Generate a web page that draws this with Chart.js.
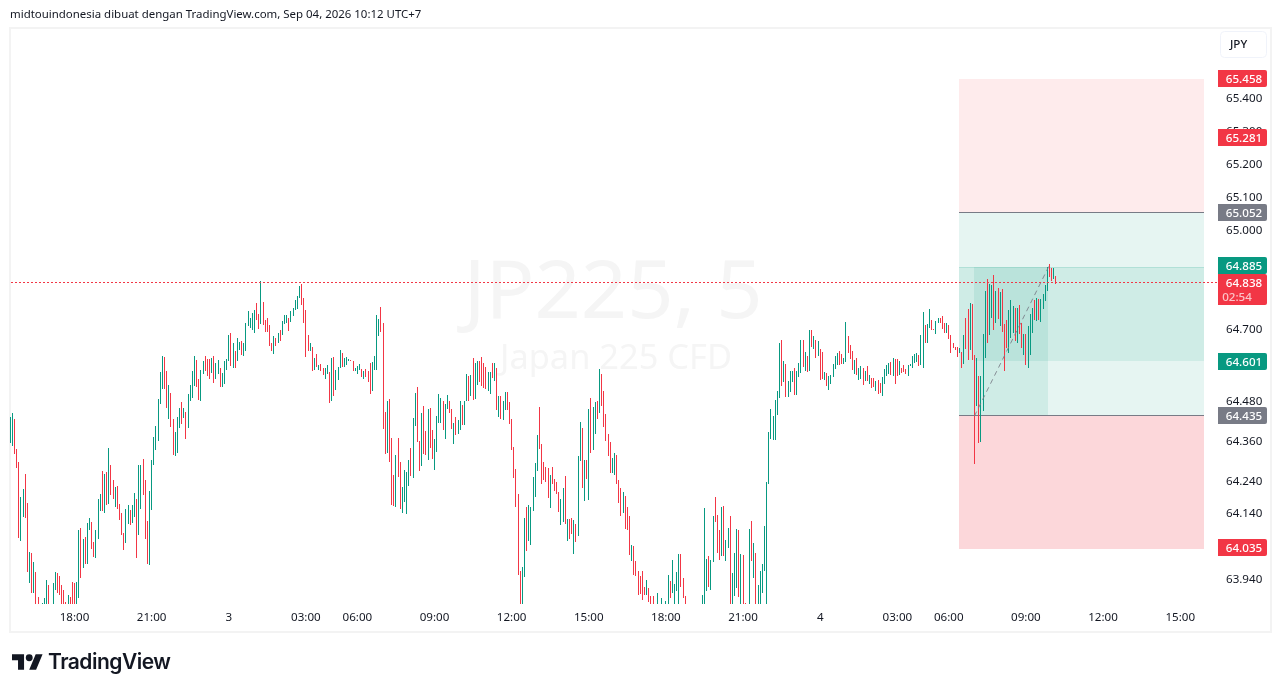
<!DOCTYPE html>
<html>
<head>
<meta charset="utf-8">
<title>JP225, 5</title>
<script src="https://cdn.jsdelivr.net/npm/chart.js@4"></script>
<style>
    html, body { margin: 0; padding: 0; background: #fff; overflow: hidden; }
    #frame { position: absolute; left: 9px; top: 27px; width: 1259px; height: 602px; border: 2px solid #f3f3f3; }
    #chart { position: absolute; left: 0; top: 0; }
    #header { position: absolute; left: 10px; top: 6px; font: 11.45px "Noto Sans", sans-serif; color: #131722; white-space: nowrap; }
    #logo { position: absolute; left: 12px; top: 654px; }
    #brand { position: absolute; left: 48px; top: 649px; font: 600 21px Inter, sans-serif; color: #131722; letter-spacing: -0.5px; }
</style>
</head>
<body>
<div id="frame"></div>
<canvas id="chart" width="1281" height="692"></canvas>
<div id="header">midtouindonesia dibuat dengan TradingView.com, Sep 04, 2026 10:12 UTC+7</div>
<svg id="logo" width="31" height="16" viewBox="0 4 36 18"><path fill="#131722" d="M14 22H7V11H0V4h14v18zM28 22h-8l7.5-18h8L28 22z"/><circle fill="#131722" cx="20" cy="8" r="4"/></svg>
<div id="brand">TradingView</div>
<script>
// 5 min bars, 15:30 on Sep 2 up to 10:10 on Sep 4
const highs = [
    64.433,64.444,64.425,64.334,64.295,64.189,64.213,64.259,64.171,64.022,
    64.019,63.992,63.961,63.885,63.85,63.867,63.882,63.937,63.922,63.85,
    63.928,63.961,63.958,63.949,63.922,63.907,63.870,63.891,63.885,63.931,
    63.928,63.931,64.089,64.095,64.061,64.067,64.110,64.125,64.113,64.052,
    64.089,64.183,64.198,64.268,64.259,64.265,64.338,64.286,64.240,64.219,
    64.222,64.168,64.140,64.080,64.152,64.165,64.149,64.165,64.201,64.183,
    64.286,64.286,64.304,64.240,64.116,64.207,64.301,64.371,64.404,64.486,
    64.568,64.617,64.614,64.571,64.529,64.504,64.425,64.386,64.432,64.459,
    64.477,64.459,64.447,64.501,64.529,64.571,64.617,64.605,64.547,64.574,
    64.601,64.617,64.608,64.608,64.611,64.617,64.595,64.605,64.580,64.565,
    64.601,64.608,64.680,64.686,64.656,64.632,64.671,64.659,64.662,64.656,
    64.717,64.753,64.732,64.747,64.756,64.778,64.744,64.844,64.781,64.726,
    64.732,64.711,64.656,64.677,64.671,64.686,64.696,64.723,64.741,64.741,
    64.732,64.753,64.762,64.787,64.799,64.829,64.835,64.793,64.756,64.680,
    64.656,64.644,64.611,64.623,64.589,64.592,64.580,64.580,64.589,64.568,
    64.611,64.614,64.574,64.583,64.635,64.626,64.611,64.614,64.608,64.605,
    64.601,64.580,64.586,64.592,64.577,64.571,64.577,64.571,64.595,64.598,
    64.617,64.741,64.729,64.765,64.717,64.447,64.480,64.486,64.368,64.256,
    64.316,64.368,64.295,64.219,64.271,64.265,64.301,64.338,64.429,64.504,
    64.523,64.359,64.444,64.465,64.389,64.456,64.459,64.392,64.365,64.435,
    64.501,64.489,64.480,64.471,64.498,64.480,64.456,64.413,64.432,64.422,
    64.480,64.468,64.480,64.562,64.556,64.559,64.611,64.595,64.601,64.601,
    64.614,64.595,64.583,64.568,64.568,64.595,64.595,64.580,64.495,64.495,
    64.480,64.507,64.507,64.477,64.425,64.341,64.274,64.198,63.964,63.976,
    64.125,64.158,64.165,64.158,64.249,64.292,64.377,64.462,64.350,64.295,
    64.280,64.277,64.256,64.280,64.243,64.234,64.204,64.183,64.216,64.253,
    64.122,64.122,64.125,64.119,64.107,64.313,64.416,64.398,64.301,64.301,
    64.456,64.489,64.462,64.477,64.480,64.577,64.562,64.510,64.441,64.380,
    64.356,64.307,64.322,64.316,64.240,64.216,64.204,64.192,64.158,64.131,
    64.043,64.040,63.995,63.964,63.949,63.964,63.916,63.937,63.913,63.888,
    63.888,63.85,63.897,63.85,63.882,63.85,63.873,63.952,63.934,63.998,
    63.925,63.961,64.016,64.016,63.943,63.888,63.85,63.85,63.85,63.85,
    63.85,63.85,63.85,63.891,64.155,64.001,64.010,63.998,64.131,64.189,
    64.134,64.089,64.158,64.161,64.058,64.095,64.131,63.958,64.019,64.092,
    64.089,64.016,64.013,63.867,63.85,64.092,64.116,64.049,64.019,63.922,
    63.964,63.985,64.101,64.234,64.386,64.456,64.435,64.483,64.510,64.656,
    64.665,64.601,64.592,64.541,64.571,64.571,64.580,64.571,64.595,64.665,
    64.665,64.629,64.617,64.696,64.696,64.677,64.665,64.662,64.638,64.629,
    64.568,64.565,64.556,64.559,64.592,64.617,64.626,64.632,64.623,64.611,
    64.720,64.677,64.650,64.632,64.605,64.611,64.580,64.586,64.580,64.571,
    64.586,64.559,64.550,64.550,64.541,64.544,64.535,64.553,64.577,64.589,
    64.595,64.598,64.611,64.608,64.608,64.601,64.582,64.589,64.577,64.589,
    64.592,64.617,64.623,64.626,64.620,64.680,64.750,64.711,64.714,64.759,
    64.726,64.699,64.723,64.732,64.732,64.738,64.717,64.717,64.711,64.680,
    64.656,64.644,64.644,64.641,64.629,64.680,64.732,64.759,64.778,64.775,
    64.620,64.611,64.556,64.556,64.683,64.814,64.850,64.835,64.832,64.862,
    64.814,64.823,64.811,64.820,64.714,64.726,64.756,64.787,64.768,64.762,
    64.762,64.771,64.717,64.683,64.683,64.708,64.744,64.762,64.787,64.793,
    64.790,64.790,64.805,64.832,64.887,64.896,64.884,64.884,64.859
];
const lows = [
    64.352,64.344,64.319,64.277,64.064,64.055,64.128,64.125,63.961,63.928,
    63.897,63.897,63.85,63.85,63.80,63.85,63.85,63.85,63.85,63.80,
    63.85,63.907,63.897,63.891,63.85,63.85,63.85,63.85,63.85,63.85,
    63.85,63.85,63.882,63.943,63.973,63.985,63.985,64.089,64.031,64.007,
    64.004,64.061,64.146,64.146,64.140,64.165,64.168,64.195,64.183,64.158,
    64.152,64.119,64.073,64.028,64.049,64.107,64.104,64.110,64.128,64.004,
    64.073,64.152,64.195,64.061,63.985,63.982,64.149,64.286,64.331,64.359,
    64.471,64.517,64.517,64.459,64.425,64.401,64.316,64.313,64.322,64.398,
    64.410,64.429,64.365,64.398,64.480,64.489,64.526,64.523,64.483,64.480,
    64.562,64.571,64.556,64.547,64.565,64.535,64.547,64.562,64.523,64.523,
    64.532,64.574,64.601,64.586,64.580,64.580,64.601,64.635,64.620,64.617,
    64.632,64.708,64.702,64.696,64.686,64.726,64.699,64.714,64.711,64.690,
    64.690,64.647,64.632,64.623,64.647,64.656,64.662,64.680,64.714,64.717,
    64.693,64.720,64.738,64.756,64.759,64.793,64.771,64.717,64.614,64.632,
    64.632,64.571,64.574,64.583,64.574,64.571,64.559,64.547,64.562,64.474,
    64.480,64.495,64.513,64.544,64.580,64.583,64.583,64.589,64.601,64.601,
    64.571,64.571,64.562,64.574,64.553,64.547,64.553,64.538,64.501,64.510,
    64.574,64.574,64.677,64.690,64.395,64.319,64.322,64.295,64.165,64.161,
    64.158,64.249,64.152,64.140,64.174,64.137,64.222,64.253,64.246,64.404,
    64.356,64.268,64.283,64.319,64.316,64.301,64.338,64.304,64.271,64.325,
    64.413,64.413,64.392,64.365,64.456,64.444,64.395,64.350,64.377,64.380,
    64.392,64.407,64.407,64.480,64.480,64.495,64.483,64.486,64.529,64.538,
    64.526,64.519,64.517,64.510,64.501,64.550,64.541,64.453,64.432,64.425,
    64.422,64.453,64.453,64.410,64.331,64.246,64.158,63.952,63.85,63.85,
    63.946,64.025,64.055,64.043,64.146,64.189,64.268,64.334,64.228,64.240,
    64.234,64.186,64.155,64.228,64.207,64.198,64.143,64.104,64.113,64.107,
    64.055,64.061,64.076,64.016,64.052,64.070,64.298,64.216,64.177,64.243,
    64.180,64.322,64.331,64.380,64.425,64.444,64.465,64.401,64.359,64.313,
    64.262,64.262,64.256,64.228,64.171,64.131,64.140,64.093,64.089,64.013,
    63.995,63.952,63.949,63.891,63.894,63.876,63.891,63.891,63.870,63.85,
    63.85,63.80,63.85,63.80,63.85,63.80,63.85,63.85,63.882,63.897,
    63.85,63.904,63.85,63.916,63.882,63.85,63.80,63.80,63.80,63.80,
    63.80,63.80,63.80,63.85,63.85,63.904,63.916,63.907,63.992,64.113,
    64.019,63.998,64.010,64.010,63.995,64.034,63.85,63.85,63.888,63.913,
    63.885,63.85,63.85,63.85,63.80,63.85,63.995,63.943,63.85,63.85,
    63.85,63.897,63.964,63.85,64.228,64.365,64.362,64.362,64.438,64.489,
    64.526,64.538,64.492,64.492,64.507,64.538,64.498,64.498,64.553,64.565,
    64.583,64.571,64.568,64.571,64.644,64.638,64.611,64.617,64.544,64.547,
    64.544,64.526,64.513,64.532,64.553,64.577,64.589,64.589,64.592,64.592,
    64.598,64.626,64.608,64.574,64.562,64.559,64.544,64.547,64.529,64.541,
    64.541,64.532,64.519,64.523,64.510,64.501,64.504,64.495,64.532,64.556,
    64.562,64.559,64.556,64.532,64.556,64.559,64.565,64.568,64.562,64.556,
    64.586,64.580,64.595,64.598,64.586,64.589,64.580,64.656,64.656,64.702,
    64.696,64.696,64.683,64.717,64.717,64.699,64.686,64.686,64.668,64.626,
    64.641,64.635,64.614,64.626,64.580,64.592,64.638,64.605,64.635,64.605,
    64.289,64.465,64.353,64.356,64.450,64.611,64.656,64.680,64.732,64.696,
    64.717,64.729,64.708,64.690,64.571,64.641,64.626,64.671,64.686,64.662,
    64.656,64.683,64.641,64.620,64.589,64.580,64.620,64.686,64.726,64.723,
    64.726,64.720,64.759,64.784,64.814,64.856,64.844,64.850,64.835
];
const ups = [
    1,1,0,0,0,1,1,0,0,1, 0,1,0,0,0,1,1,1,0,1, 1,1,0,0,0,0,0,1,0,0, 0,1,1,0,1,0,1,1,0,0,
    1,1,1,0,1,0,1,0,0,1, 0,0,0,0,1,1,0,1,1,0, 1,1,0,0,0,1,1,1,1,1, 1,1,0,0,1,0,0,1,1,1,
    0,1,0,1,1,1,1,0,0,1, 1,0,0,0,1,0,1,1,0,1, 1,1,1,0,1,0,1,1,0,1, 1,1,1,1,1,0,0,1,0,0,
    0,0,0,1,0,1,0,1,1,1, 0,1,1,1,1,1,0,0,0,0, 1,0,1,0,1,0,0,1,1,0, 1,0,1,1,1,0,1,1,1,0,
    0,1,1,1,0,1,0,0,0,1, 1,1,1,0,0,0,1,0,0,0, 1,0,0,1,1,1,1,0,1,1, 0,0,1,0,0,1,0,0,1,1,
    1,1,0,1,1,0,0,1,0,1, 1,0,1,1,0,1,0,1,1,0, 0,0,0,1,1,0,1,0,1,0, 1,1,0,0,0,0,0,0,0,1,
    1,0,1,1,1,1,1,0,0,0, 0,0,1,0,0,0,0,1,1,0, 1,0,0,1,0,1,1,0,1,0, 1,0,1,1,0,1,0,0,0,0,
    0,1,1,0,0,0,1,0,0,0, 1,0,0,0,0,0,0,1,0,0, 0,0,1,1,1,1,1,1,0,1, 1,1,1,0,0,0,0,1,0,1,
    1,0,1,1,1,1,0,1,1,0, 0,0,1,0,1,1,0,1,1,1, 0,1,0,0,1,1,0,1,0,1, 1,1,1,1,1,1,1,1,1,1,
    0,1,0,1,1,1,0,1,1,1, 0,1,0,1,0,1,0,1,0,0, 1,0,1,1,1,1,1,0,0,1, 1,0,0,0,1,0,1,1,0,1,
    0,1,0,0,1,0,0,1,1,1, 1,0,1,0,0,1,0,0,0,1, 1,1,1,1,0,1,1,0,1,1, 0,0,1,1,0,0,0,1,0,0,
    0,0,0,1,0,1,0,0,1,0, 0,1,0,1,1,1,0,1,1,0, 1,0,1,0,0,0,1,1,1,0, 1,0,0,1,0,1,1,1,0,1,
    0,1,1,1,1,0,0,1,0
];

const priceTicks = [65.4, 65.3, 65.2, 65.1, 65.0, 64.7, 64.48, 64.36, 64.24, 64.14, 63.94];
const timeBars = [30, 66, 102, 138, 162, 198, 234, 270, 306, 342, 378, 414, 438, 474, 510, 546];
const timeLabels = ['18:00', '21:00', '3', '03:00', '06:00', '09:00', '12:00', '15:00', '18:00', '21:00', '4', '03:00', '06:00', '09:00', '12:00', '15:00'];

const lastPrice = 64.838;
const countdown = '02:54';
const drawnPrices = [65.458, 65.281, 65.052, 64.885, 64.601, 64.435, 64.035];
const drawnColors = ['#f23645', '#f23645', '#787b86', '#089981', '#089981', '#787b86', '#f23645'];
const tradeLineBars = [450, 485];
const tradeLinePrices = [64.435, 64.893];

const UP = '#089981';
const DOWN = '#f23645';
const FONT = '"Noto Sans", sans-serif';

// long position drawings: from bar, to bar, top price, bottom price, fill
const zones = [
    [443, 557.1, 65.456, 65.052, 'rgba(242,54,69,0.1)'],
    [443, 557.1, 65.052, 64.435, 'rgba(8,153,129,0.1)'],
    [443, 557.1, 64.435, 64.029, 'rgba(242,54,69,0.2)'],
    [443, 484.3, 64.885, 64.435, 'rgba(8,153,129,0.1)'],
    [450, 557.1, 64.885, 64.601, 'rgba(8,153,129,0.1)']
];

const tvPlugin = {
    id: 'tv',
    afterDatasetsUpdate(chart) {
        // whole pixel columns, like the original
        chart.getDatasetMeta(0).data.forEach(bar => {
            bar.x = Math.floor(bar.x) + 0.5;
            bar.y = Math.round(bar.y);
            bar.base = Math.max(Math.round(bar.base), bar.y + 1);
        });
    },
    beforeDatasetsDraw(chart) {
        const { ctx, scales: { x, y } } = chart;
        ctx.save();
        ctx.fillStyle = '#f5f5f5';
        ctx.textAlign = 'center';
        ctx.textBaseline = 'alphabetic';
        ctx.font = '81px "Noto Sans", sans-serif';
        ctx.fillText('JP225, 5', 613, 318);
        ctx.font = '34.4px "Noto Sans", sans-serif';
        ctx.fillText('Japan 225 CFD', 616, 369);

        zones.forEach(z => {
            const left = Math.round(x.getPixelForValue(z[0]));
            const right = Math.round(x.getPixelForValue(z[1]));
            const top = Math.floor(y.getPixelForValue(z[2]));
            const bottom = Math.floor(y.getPixelForValue(z[3]));
            ctx.fillStyle = z[4];
            ctx.fillRect(left, top, right - left, bottom - top);
        });
        const left = Math.round(x.getPixelForValue(zones[0][0]));
        const right = Math.round(x.getPixelForValue(zones[0][1]));
        ctx.fillStyle = '#787b86';
        ctx.fillRect(left, Math.floor(y.getPixelForValue(65.052)), right - left, 1);
        ctx.fillRect(left, Math.floor(y.getPixelForValue(64.435)), right - left, 1);
        ctx.fillStyle = 'rgba(8,153,129,0.15)';
        ctx.fillRect(left, Math.floor(y.getPixelForValue(64.885)), right - left, 1);
        ctx.restore();
    },
    afterDraw(chart) {
        const { ctx, scales: { y } } = chart;
        ctx.save();

        // last price line
        const lastY = Math.round(y.getPixelForValue(lastPrice));
        ctx.fillStyle = DOWN;
        for (let px = 11; px < 1216; px += 4) ctx.fillRect(px, lastY - 1, 2, 1);

        ctx.textAlign = 'center';
        ctx.textBaseline = 'middle';
        ctx.font = '500 11.6px ' + FONT;

        drawnPrices.forEach((price, i) => {
            let mid = Math.floor(y.getPixelForValue(price));
            if (price === 64.885) mid -= 2; // pushed up by the last price tag
            ctx.fillStyle = drawnColors[i];
            ctx.beginPath();
            ctx.roundRect(1218, mid - 8, 49, 17, [0, 2, 2, 0]);
            ctx.fill();
            ctx.fillStyle = '#fff';
            ctx.fillText(price.toFixed(3), 1244, mid + 2);
        });

        ctx.fillStyle = DOWN;
        ctx.beginPath();
        ctx.roundRect(1218, lastY - 9, 49, 31, [0, 2, 2, 0]);
        ctx.fill();
        ctx.fillStyle = '#fff';
        ctx.fillText(lastPrice.toFixed(3), 1244, lastY + 1);
        ctx.fillStyle = 'rgba(255,255,255,0.7)';
        ctx.fillText(countdown, 1237, lastY + 15);

        // currency button
        ctx.strokeStyle = '#f0f3fa';
        ctx.beginPath();
        ctx.roundRect(1220.5, 31.5, 46, 26, 4);
        ctx.stroke();
        ctx.fillStyle = '#131722';
        ctx.textAlign = 'left';
        ctx.fillText('JPY', 1230, 45);
        ctx.restore();
    }
};

new Chart(document.getElementById('chart'), {
    type: 'bar',
    data: {
        datasets: [{
            label: 'JP225',
            order: 2,
            data: highs.map((h, i) => ({ x: i, y: [lows[i], h] })),
            backgroundColor: ups.map(u => u ? UP : DOWN),
            barThickness: 1,
            inflateAmount: 0,
            borderWidth: 0
        }, {
            type: 'line',
            label: 'trade',
            order: 1,
            data: tradeLineBars.map((b, i) => ({ x: b, y: tradeLinePrices[i] })),
            borderColor: 'rgba(120,123,134,0.85)',
            borderWidth: 1,
            borderDash: [5, 4],
            pointRadius: 0
        }]
    },
    options: {
        responsive: false,
        devicePixelRatio: 1,
        animation: false,
        events: [],
        layout: { padding: { left: 10, top: 29, right: 11, bottom: 60 } },
        plugins: { legend: { display: false }, tooltip: { enabled: false } },
        scales: {
            x: {
                type: 'linear',
                offset: false,
                min: -0.0933,
                max: 559.44,
                grid: { display: false, drawTicks: false },
                border: { display: false },
                afterBuildTicks: scale => { scale.ticks = timeBars.map(value => ({ value })); },
                afterFit: scale => { scale.height = 28; },
                ticks: {
                    autoSkip: false,
                    maxRotation: 0,
                    padding: 7,
                    color: '#131722',
                    font: { family: FONT, size: 11.6 },
                    callback: (value, i) => timeLabels[i]
                }
            },
            y: {
                position: 'right',
                min: 63.8643,
                max: 65.6094,
                grid: { display: false, drawTicks: false },
                border: { display: false },
                afterBuildTicks: scale => { scale.ticks = priceTicks.map(value => ({ value })); },
                afterFit: scale => { scale.width = 61; },
                ticks: {
                    autoSkip: false,
                    padding: 17,
                    labelOffset: 1,
                    color: '#131722',
                    font: { family: FONT, size: 11.6 },
                    callback: value => value.toFixed(3)
                }
            }
        }
    },
    plugins: [tvPlugin]
});
</script>
</body>
</html>
